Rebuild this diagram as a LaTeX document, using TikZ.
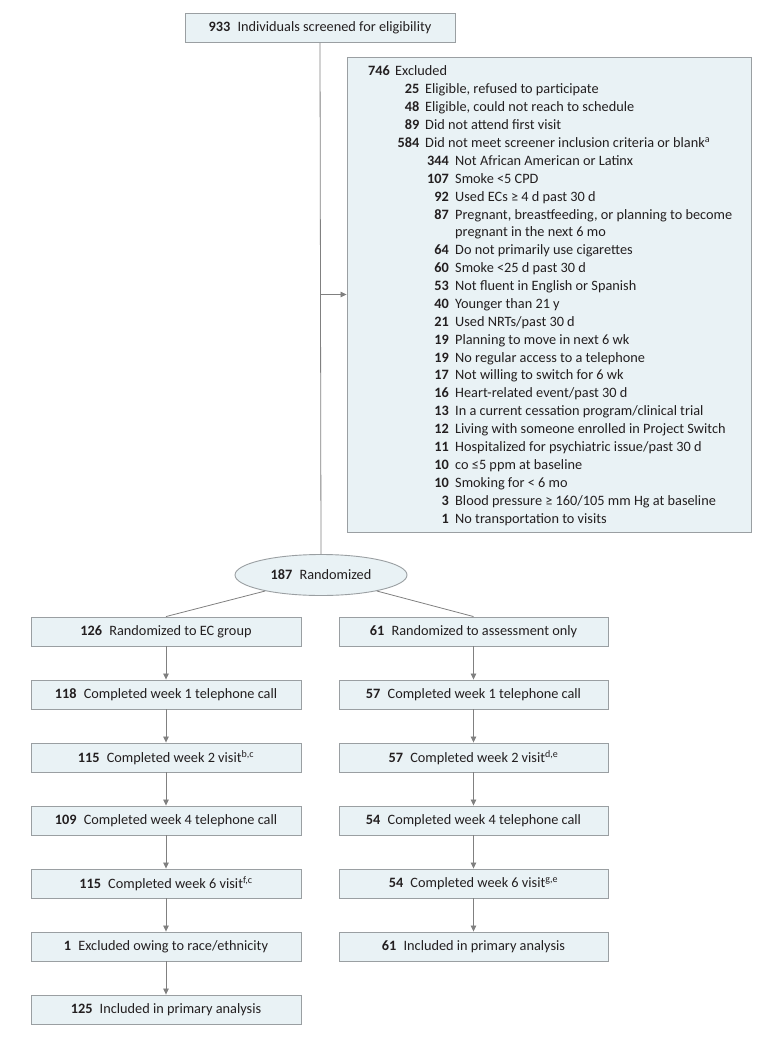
\documentclass[tikz,border=0pt]{standalone}
\usepackage{fontspec}
\setmainfont{Carlito}
\usetikzlibrary{shapes.geometric,arrows.meta,positioning}
\definecolor{BoxFill}{HTML}{E9F2F5}
\definecolor{BoxLine}{HTML}{9A9FA2}
\definecolor{FlowLine}{HTML}{808080}
\definecolor{TextInk}{HTML}{231F20}
\newcommand{\cnt}[2]{\textbf{#1}\enspace #2}

\begin{document}
\begin{tikzpicture}[x=1pt,y=-1pt,node distance=33.1pt,
  every node/.style={font=\fontsize{14.3}{16}\selectfont,text=TextInk},
  box/.style={draw=BoxLine,fill=BoxFill,line width=0.9pt,minimum height=29pt,inner sep=2pt},
  lbox/.style={box,minimum width=270pt},
  rbox/.style={box,minimum width=269pt},
  arr/.style={-{Triangle[length=6pt,width=5.5pt]},FlowLine,line width=0.8pt}]
  \useasboundingbox (0,0) rectangle (780,1038);
  \node[box,minimum width=270pt] (scr) at (320,28) {\cnt{933}{Individuals screened for eligibility}};
  \node[box,minimum width=404pt,minimum height=475pt] (excl) at (549,294.5) {};
  % exclusion list: level/count/reason
  \foreach \lv/\n/\t [count=\i] in {0/746/Excluded,
      1/25/{Eligible, refused to participate},
      1/48/{Eligible, could not reach to schedule},
      1/89/Did not attend first visit,
      1/584/Did not meet screener inclusion criteria or blank\textsuperscript{a},
      2/344/Not African American or Latinx,
      2/107/Smoke <5 CPD,
      2/92/Used ECs ≥ 4 d past 30 d,
      2/87/{Pregnant, breastfeeding, or planning to become},
      2//pregnant in the next 6 mo,
      2/64/Do not primarily use cigarettes,
      2/60/Smoke <25 d past 30 d,
      2/53/Not fluent in English or Spanish,
      2/40/Younger than 21 y,
      2/21/{Used NRTs/past 30 d},
      2/19/Planning to move in next 6 wk,
      2/19/No regular access to a telephone,
      2/17/Not willing to switch for 6 wk,
      2/16/{Heart-related event/past 30 d},
      2/13/{In a current cessation program/clinical trial},
      2/12/Living with someone enrolled in Project Switch,
      2/11/{Hospitalized for psychiatric issue/past 30 d},
      2/10/{\textsc{co} ≤5 ppm at baseline},
      2/10/Smoking for < 6 mo,
      2/3/{Blood pressure ≥ 160/105 mm Hg at baseline},
      2/1/No transportation to visits}{
    \node[anchor=base east,inner sep=0pt,font=\fontsize{14.3}{16}\selectfont\bfseries] (n\i) at ({390+29.5*\lv},{76+17.88*(\i-1)}) {\n};
    \node[anchor=base west,inner sep=0pt] (t\i) at ({395+30*\lv},{76+17.88*(\i-1)}) {\t};
  }
  \node[ellipse,draw=BoxLine,fill=BoxFill,line width=0.9pt,minimum width=172pt,minimum height=41pt,inner sep=0pt] (rand) at (321,575) {\cnt{187}{Randomized}};
  \draw[FlowLine,line width=0.8pt] (scr.south) -- (rand.north);
  \draw[arr] (scr.south |- excl.west) -- (excl.west);
  % EC group
  \node[lbox] (ec1) at (166,631.5) {\cnt{126}{Randomized to EC group}};
  \node[lbox,below=of ec1] (ec2) {\cnt{118}{Completed week 1 telephone call}};
  \node[lbox,below=of ec2] (ec3) {\cnt{115}{Completed week 2 visit\textsuperscript{b,c}}};
  \node[lbox,below=of ec3] (ec4) {\cnt{109}{Completed week 4 telephone call}};
  \node[lbox,below=of ec4] (ec5) {\cnt{115}{Completed week 6 visit\textsuperscript{f,c}}};
  \node[lbox,below=of ec5] (ec6) {\cnt{1}{Excluded owing to race/ethnicity}};
  \node[lbox,below=of ec6] (ec7) {\cnt{125}{Included in primary analysis}};
  % assessment only
  \node[rbox] (ao1) at (473.5,631.5) {\cnt{61}{Randomized to assessment only}};
  \node[rbox,below=of ao1] (ao2) {\cnt{57}{Completed week 1 telephone call}};
  \node[rbox,below=of ao2] (ao3) {\cnt{57}{Completed week 2 visit\textsuperscript{d,e}}};
  \node[rbox,below=of ao3] (ao4) {\cnt{54}{Completed week 4 telephone call}};
  \node[rbox,below=of ao4] (ao5) {\cnt{54}{Completed week 6 visit\textsuperscript{g,e}}};
  \node[rbox,below=of ao5] (ao6) {\cnt{61}{Included in primary analysis}};
  \draw[FlowLine,line width=0.8pt] (rand.196) -- (ec1.north);
  \draw[FlowLine,line width=0.8pt] (rand.-16) -- (ao1.north);
  \foreach \x/\y in {ec1/ec2,ec2/ec3,ec3/ec4,ec4/ec5,ec5/ec6,ec6/ec7,ao1/ao2,ao2/ao3,ao3/ao4,ao4/ao5,ao5/ao6}{\draw[arr] (\x)--(\y);}
\end{tikzpicture}
\end{document}
